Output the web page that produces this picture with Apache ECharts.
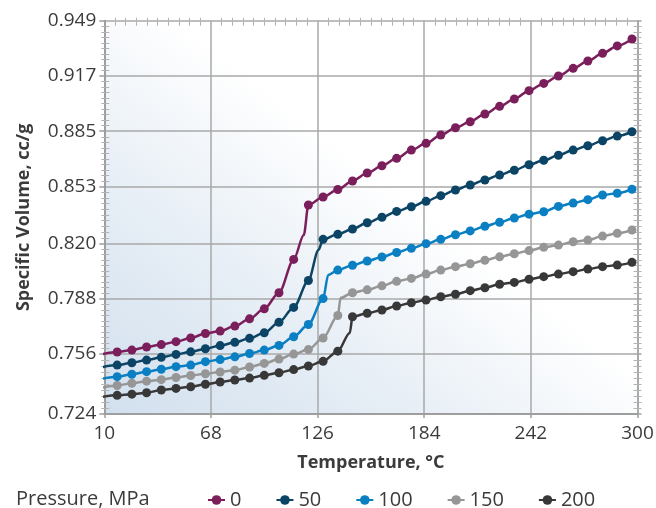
<!DOCTYPE html>
<html>
<head>
<meta charset="utf-8">
<script src="https://cdn.jsdelivr.net/npm/echarts@6/dist/echarts.min.js"></script>
<style>
html,body{margin:0;padding:0;background:#ffffff;}
#chart{width:656px;height:508px;}
</style>
</head>
<body>
<div id="chart"></div>
<script>
// Temperature (°C) of each marker; the first one (9) sits just left of the axis and is clipped
const temps = [9, 17, 25, 33, 41, 49, 57, 65, 73, 81, 89, 97, 105, 113, 121, 129, 137, 145, 153, 161,
  169, 177, 185, 193, 201, 209, 217, 225, 233, 241, 249, 257, 265, 273, 281, 289, 297];

const seriesNames = ['0', '50', '100', '150', '200'];

// Specific volume (cc/g), one value per temperature
const p0 = [0.7560, 0.7572, 0.7583, 0.7601, 0.7615, 0.7632, 0.7653, 0.7679, 0.7693, 0.7722, 0.7764,
  0.7822, 0.7915, 0.8108, 0.8423, 0.8469, 0.8513, 0.8562, 0.8608, 0.8650, 0.8693, 0.8741, 0.8780,
  0.8828, 0.8870, 0.8905, 0.8950, 0.8994, 0.9037, 0.9085, 0.9127, 0.9170, 0.9214, 0.9257, 0.9301,
  0.9344, 0.9384];
const p50 = [0.7485, 0.7496, 0.7510, 0.7525, 0.7541, 0.7558, 0.7573, 0.7591, 0.7609, 0.7628, 0.7651,
  0.7683, 0.7744, 0.7830, 0.7986, 0.8224, 0.8253, 0.8284, 0.8320, 0.8352, 0.8386, 0.8413, 0.8444,
  0.8477, 0.8510, 0.8539, 0.8568, 0.8597, 0.8624, 0.8656, 0.8682, 0.8711, 0.8741, 0.8766, 0.8795,
  0.8822, 0.8847];
const p100 = [0.7418, 0.7429, 0.7443, 0.7458, 0.7472, 0.7487, 0.7496, 0.7516, 0.7528, 0.7544, 0.7563,
  0.7583, 0.7610, 0.7660, 0.7731, 0.7881, 0.8046, 0.8074, 0.8099, 0.8122, 0.8148, 0.8172, 0.8199,
  0.8224, 0.8251, 0.8273, 0.8300, 0.8323, 0.8348, 0.8370, 0.8384, 0.8415, 0.8434, 0.8454, 0.8481,
  0.8491, 0.8514];
const p150 = [0.7366, 0.7378, 0.7391, 0.7403, 0.7412, 0.7424, 0.7436, 0.7446, 0.7456, 0.7467, 0.7485,
  0.7506, 0.7531, 0.7560, 0.7586, 0.7653, 0.7783, 0.7915, 0.7932, 0.7955, 0.7981, 0.7998, 0.8023,
  0.8046, 0.8066, 0.8083, 0.8103, 0.8123, 0.8141, 0.8159, 0.8178, 0.8191, 0.8210, 0.8220, 0.8243,
  0.8259, 0.8278];
const p200 = [0.7312, 0.7321, 0.7328, 0.7336, 0.7352, 0.7361, 0.7371, 0.7385, 0.7398, 0.7410, 0.7421,
  0.7437, 0.7452, 0.7470, 0.7491, 0.7518, 0.7577, 0.7776, 0.7796, 0.7815, 0.7838, 0.7857, 0.7873,
  0.7892, 0.7906, 0.7927, 0.7944, 0.7964, 0.7975, 0.7993, 0.8008, 0.8023, 0.8037, 0.8052, 0.8066,
  0.8075, 0.8091];

// Unmarked points where each curve turns at the end of its steep melt step
const knee0 = [118.5, 0.8249];
const knee50 = [126.5, 0.8162];
const knee100 = [131.8, 0.8018];
const knee150 = [138.5, 0.7884];
const knee200 = [143.5, 0.7682];

// Axis ticks
const xTicks = [10, 68, 126, 184, 242, 300];
const yTickValues = [0.7213, 0.756, 0.788, 0.820, 0.853, 0.885, 0.917, 0.949];
const yTickLabels = ['0.724', '0.756', '0.788', '0.820', '0.853', '0.885', '0.917', '0.949'];

const colors = ['#7b1f5c', '#0c4466', '#0a7fc2', '#969696', '#383838'];

const FONT = 'Open Sans';
const TXT = '#3b3b3b';
const GRIDC = '#a9a9a9';

function minorPositions(ticks, n) {
  const out = [];
  for (let i = 0; i < ticks.length - 1; i++) {
    for (let k = 1; k < n; k++) out.push(ticks[i] + (ticks[i + 1] - ticks[i]) * k / n);
  }
  return out;
}
const xMinor = minorPositions(xTicks, 10);
const yMinor = minorPositions(yTickValues, 10);

function buildData(vals, knee) {
  const d = temps.map((t, i) => [t, vals[i]]);
  const idx = d.findIndex(p => p[0] > knee[0]);
  d.splice(idx, 0, { value: knee, symbol: 'none' });
  return d;
}

const allVals = [p0, p50, p100, p150, p200];
const allKnees = [knee0, knee50, knee100, knee150, knee200];

const chart = echarts.init(document.getElementById('chart'), null, { renderer: 'canvas' });

const minorTickStyle = { color: '#b3b3b3', width: 1 };

const option = {
  animation: false,
  textStyle: { fontFamily: FONT },
  grid: {
    left: 104.3, right: 18.5, top: 20.7, bottom: 94,
    containLabel: false,
    outerBoundsMode: 'none',
    show: true,
    borderWidth: 0,
    backgroundColor: {
      type: 'linear', x: 0, y: 1, x2: 0.45, y2: 0.2,
      colorStops: [
        { offset: 0, color: '#d2e0ee' },
        { offset: 0.5, color: '#e8eff6' },
        { offset: 0.9, color: '#ffffff' },
        { offset: 1, color: '#ffffff' }
      ]
    }
  },
  title: {
    text: 'Pressure, MPa',
    left: 11, top: 484,
    textStyle: { fontFamily: FONT, fontSize: 20, fontWeight: 'normal', color: TXT }
  },
  legend: {
    left: 202, top: 485,
    itemWidth: 17, itemHeight: 12, itemGap: 34,
    textStyle: { fontFamily: FONT, fontSize: 20, color: TXT },
    data: seriesNames
  },
  xAxis: [
    {
      type: 'value', min: 10, max: 300,
      name: 'Temperature, °C', nameLocation: 'middle', nameGap: 40,
      nameTextStyle: { fontFamily: FONT, fontSize: 18, fontWeight: 'bold', color: TXT },
      axisLine: { show: true, lineStyle: { color: '#9e9e9e', width: 2 } },
      axisTick: { show: true, customValues: xTicks, length: 4, lineStyle: { color: '#9e9e9e', width: 1.5 } },
      axisLabel: { show: true, customValues: xTicks, margin: 10, fontSize: 19, color: TXT, fontFamily: FONT },
      splitLine: { show: true, lineStyle: { color: GRIDC, width: 1.5 } }
    },
    {
      type: 'value', min: 10, max: 300, offset: 3,
      axisLine: { show: false },
      axisTick: { show: true, inside: true, length: 8, customValues: xMinor, lineStyle: minorTickStyle },
      axisLabel: { show: false },
      splitLine: { show: false }
    }
  ],
  yAxis: [
    {
      type: 'value', min: yTickValues[0], max: 0.949, position: 'left',
      name: 'Specific Volume, cc/g', nameLocation: 'middle', nameGap: 71,
      nameTextStyle: { fontFamily: FONT, fontSize: 18, fontWeight: 'bold', color: TXT },
      axisLine: { show: true, lineStyle: { color: '#9e9e9e', width: 2 } },
      axisTick: { show: true, customValues: yTickValues, length: 5, lineStyle: { color: '#9e9e9e', width: 1.5 } },
      axisLabel: {
        show: true, customValues: yTickValues, margin: 8, fontSize: 19, color: TXT, fontFamily: FONT,
        formatter: function (v) {
          const i = yTickValues.findIndex(t => Math.abs(t - v) < 1e-6);
          return i >= 0 ? yTickLabels[i] : '';
        }
      },
      splitLine: { show: true, lineStyle: { color: GRIDC, width: 1.5 } }
    },
    {
      type: 'value', min: yTickValues[0], max: 0.949, position: 'left', offset: 3,
      axisLine: { show: false },
      axisTick: { show: true, inside: true, length: 8, customValues: yMinor, lineStyle: minorTickStyle },
      axisLabel: { show: false },
      splitLine: { show: false }
    },
    {
      type: 'value', min: yTickValues[0], max: 0.949, position: 'right',
      axisLine: { show: true, lineStyle: { color: '#a3a3a3', width: 1.5 } },
      axisTick: { show: true, customValues: yTickValues, length: 4, lineStyle: { color: '#a3a3a3', width: 1.5 } },
      axisLabel: { show: false },
      splitLine: { show: false }
    },
    {
      type: 'value', min: yTickValues[0], max: 0.949, position: 'right', offset: 4,
      axisLine: { show: false },
      axisTick: { show: true, inside: true, length: 8, customValues: yMinor, lineStyle: minorTickStyle },
      axisLabel: { show: false },
      splitLine: { show: false }
    }
  ],
  series: seriesNames.map((name, i) => ({
    name: name,
    type: 'line',
    xAxisIndex: 0,
    yAxisIndex: 0,
    data: buildData(allVals[i], allKnees[i]),
    smooth: 0.3,
    smoothMonotone: 'x',
    clip: true,
    symbol: 'circle',
    symbolSize: 9,
    showSymbol: true,
    lineStyle: { color: colors[i], width: 2.5 },
    itemStyle: { color: colors[i] },
    z: 10 - i
  }))
};

chart.setOption(option);
</script>
</body>
</html>
